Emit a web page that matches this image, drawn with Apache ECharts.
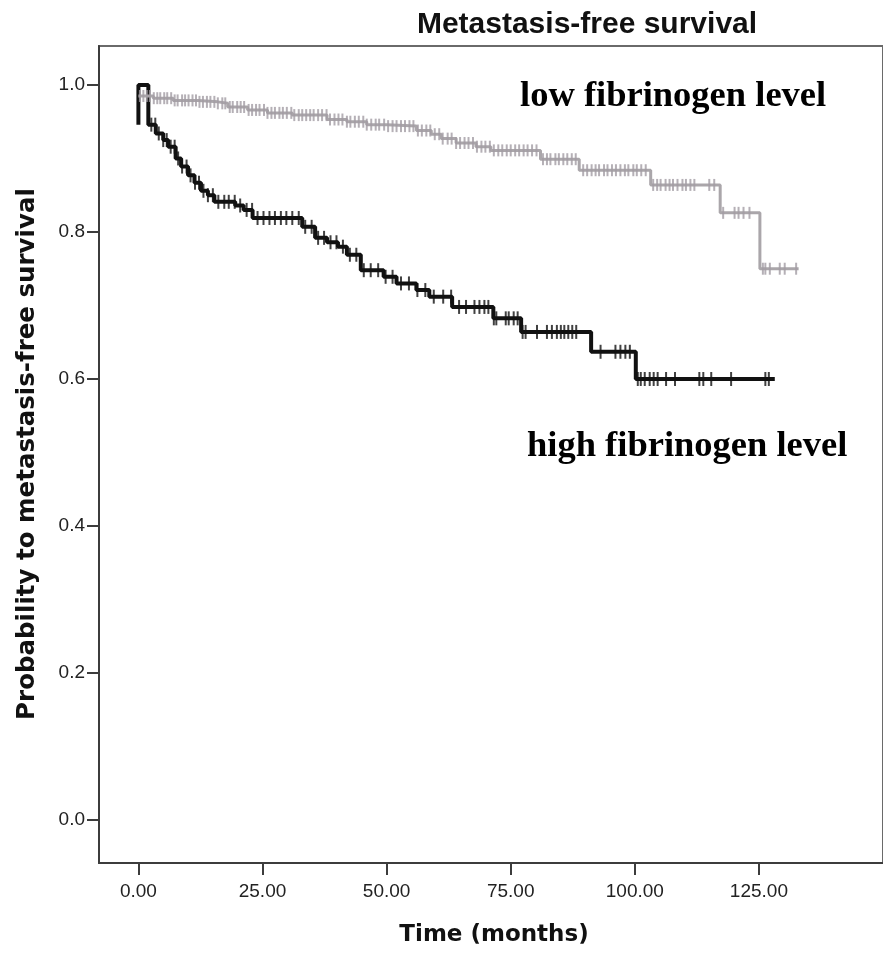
<!DOCTYPE html>
<html>
<head>
<meta charset="utf-8">
<title>Metastasis-free survival</title>
<script src="https://cdn.jsdelivr.net/npm/echarts@6/dist/echarts.min.js"></script>
<style>
  html, body {margin:0;padding:0;background:#fff;}
  #chart {width:883px;height:958px;}
</style>
</head>
<body>
<div id="chart"></div>
<script>
// tick labels
var xTicks = [0, 25, 50, 75, 100, 125];
var yTicks = [0, 0.2, 0.4, 0.6, 0.8, 1.0];

// low fibrinogen level - step times / survival
var lowTimes = [0, 3, 7, 12, 16, 18, 22, 26, 31, 38, 42, 46, 50, 56, 59, 61, 64, 68, 71, 81, 88.8, 103.2, 117.2, 125.2, 133];
var lowSurv  = [0.985, 0.982, 0.979, 0.977, 0.975, 0.970, 0.966, 0.962, 0.959, 0.953, 0.950, 0.946, 0.944, 0.938, 0.933, 0.927, 0.921, 0.916, 0.911, 0.899, 0.884, 0.864, 0.826, 0.750, 0.750];
var lowCensor = [0.3, 1.0, 1.7, 2.3, 3.1, 3.8, 4.4, 5.2, 5.8, 6.6, 7.3, 7.9, 8.8, 9.4, 10.1, 10.9, 11.6, 12.3, 13.0, 13.8, 14.5, 15.3, 16.0, 16.9, 17.5, 18.4, 19.0, 19.9, 20.6, 21.3, 22.2, 22.9, 23.7, 24.4, 25.3, 26.0, 26.8, 27.5, 28.4, 29.1, 29.9, 30.8, 31.4, 32.3, 33.0, 33.8, 34.6, 35.3, 36.2, 37.0, 37.9, 38.6, 39.5, 40.3, 41.1, 42.0, 42.7, 43.6, 44.4, 45.3, 46.0, 46.9, 47.8, 48.5, 49.5, 50.3, 51.2, 52.0, 52.9, 53.7, 54.6, 55.4, 56.3, 57.1, 58.0, 58.8, 59.7, 60.6, 61.3, 62.3, 63.1, 64.0, 64.8, 65.7, 66.5, 67.4, 68.2, 69.1, 69.9, 70.8, 71.6, 72.5, 73.3, 74.2, 75.0, 75.9, 76.7, 77.6, 78.4, 79.3, 80.2, 81.5, 82.3, 83.0, 84.0, 84.7, 85.6, 86.4, 87.3, 88.1, 89.6, 90.4, 91.3, 92.1, 92.8, 93.8, 94.5, 95.4, 96.2, 97.1, 98.0, 98.7, 99.7, 100.4, 101.3, 102.2, 103.7, 104.5, 105.2, 106.2, 107.0, 107.7, 108.6, 109.6, 110.3, 111.2, 112.0, 115.0, 116.0, 117.8, 120.1, 120.9, 121.9, 123.1, 125.8, 126.3, 127.2, 129.2, 130.2, 132.5];

// high fibrinogen level
var highTimes = [0, 0, 2, 3.5, 5, 6, 7.5, 8.6, 10, 11.3, 12.6, 14, 15.3, 19.5, 21.2, 23, 33, 35.6, 38, 40.2, 42, 44.8, 49.4, 52, 56, 58.6, 63.2, 71.5, 77.1, 91.2, 100.2, 128.2];
var highSurv  = [0.946, 1.0, 0.946, 0.934, 0.925, 0.916, 0.900, 0.889, 0.877, 0.867, 0.856, 0.850, 0.841, 0.836, 0.830, 0.819, 0.807, 0.792, 0.786, 0.780, 0.769, 0.748, 0.739, 0.730, 0.721, 0.712, 0.698, 0.6825, 0.664, 0.637, 0.600, 0.600];
var highCensor = [2.6, 3.4, 4.1, 5.0, 5.7, 6.5, 7.3, 8.0, 8.8, 9.7, 10.5, 11.4, 12.2, 13.1, 14.0, 15.0, 16.1, 17.3, 18.2, 19.4, 20.5, 21.8, 22.9, 24.0, 25.2, 26.4, 27.5, 28.7, 29.8, 31.0, 32.3, 33.6, 34.9, 36.2, 37.4, 38.7, 39.9, 41.2, 42.6, 43.9, 45.4, 46.8, 48.3, 49.8, 51.2, 52.9, 54.5, 56.2, 57.8, 59.5, 61.4, 63.0, 64.6, 66.0, 67.7, 68.7, 69.7, 70.5, 71.6, 72.1, 74.0, 74.6, 75.6, 76.4, 77.4, 78.0, 80.3, 82.3, 83.3, 84.3, 85.1, 85.8, 86.6, 87.4, 88.2, 93.1, 96.1, 97.1, 98.1, 99.0, 100.6, 101.2, 102.0, 103.0, 103.8, 104.6, 106.3, 108.1, 113.0, 113.8, 115.4, 119.4, 126.3, 127.0];

function stepData(times, surv) {
  var d = [];
  for (var i = 0; i < times.length; i++) d.push([times[i], surv[i]]);
  return d;
}
// survival value in effect at time t (last step at or before t)
function survAt(times, surv, t) {
  var v = surv[0];
  for (var i = 0; i < times.length; i++) {
    if (times[i] <= t) v = surv[i];
  }
  return v;
}
function censorData(times, surv, cens) {
  return cens.map(function (t) { return [t, survAt(times, surv, t)]; });
}

var chart = echarts.init(document.getElementById('chart'));
var axisColor = '#3c3c3c';
var option = {
  animation: false,
  backgroundColor: '#fff',
  grid: {
    left: 99, top: 46, right: -18, bottom: 95,
    show: true, borderColor: '#6a6a6a', borderWidth: 2, backgroundColor: 'transparent'
  },
  xAxis: {
    type: 'value', min: -7.94, max: 150,
    axisLine: {show: true, onZero: false, lineStyle: {color: axisColor, width: 2}},
    axisTick: {show: true, length: 12, lineStyle: {color: axisColor, width: 2}, customValues: xTicks},
    axisLabel: {
      customValues: xTicks, margin: 19, color: '#222',
      fontFamily: 'Liberation Sans', fontSize: 19,
      formatter: function (v) { return v.toFixed(2); }
    },
    splitLine: {show: false}
  },
  yAxis: {
    type: 'value', min: -0.0585, max: 1.053,
    axisLine: {show: true, onZero: false, lineStyle: {color: axisColor, width: 2}},
    axisTick: {show: true, length: 12, lineStyle: {color: axisColor, width: 2}, customValues: yTicks},
    axisLabel: {
      customValues: yTicks, margin: 14, color: '#222',
      fontFamily: 'Liberation Sans', fontSize: 19,
      formatter: function (v) { return v.toFixed(1); }
    },
    splitLine: {show: false}
  },
  graphic: [
    {type: 'text', x: 587, y: 25, style: {text: 'Metastasis-free survival', align: 'center', verticalAlign: 'middle',
      font: 'bold 30px "Liberation Sans"', fill: '#111'}},
    {type: 'text', x: 494, y: 935, style: {text: 'Time (months)', align: 'center', verticalAlign: 'middle',
      font: 'bold 23px "DejaVu Sans"', fill: '#111'}},
    {type: 'text', x: 28, y: 454, rotation: Math.PI / 2, style: {text: 'Probability to metastasis-free survival', align: 'center', verticalAlign: 'middle',
      font: 'bold 24.5px "DejaVu Sans"', fill: '#111'}},
    {type: 'text', x: 520, y: 97, style: {text: 'low fibrinogen level', align: 'left', verticalAlign: 'middle',
      font: 'bold 36.5px "Liberation Serif"', fill: '#000'}},
    {type: 'text', x: 527, y: 447, style: {text: 'high fibrinogen level', align: 'left', verticalAlign: 'middle',
      font: 'bold 36.5px "Liberation Serif"', fill: '#000'}}
  ],
  series: [
    {
      name: 'high fibrinogen level', type: 'line', step: 'end', showSymbol: false,
      data: stepData(highTimes, highSurv),
      lineStyle: {color: '#111', width: 4}, z: 2
    },
    {
      name: 'high censored', type: 'scatter', symbol: 'rect', symbolSize: [2, 14],
      data: censorData(highTimes, highSurv, highCensor),
      itemStyle: {color: '#111'}, z: 3
    },
    {
      name: 'low fibrinogen level', type: 'line', step: 'end', showSymbol: false,
      data: stepData(lowTimes, lowSurv),
      lineStyle: {color: '#aaa6aa', width: 3}, z: 4
    },
    {
      name: 'low censored', type: 'scatter', symbol: 'rect', symbolSize: [2, 12],
      data: censorData(lowTimes, lowSurv, lowCensor),
      itemStyle: {color: '#a29ca4'}, z: 5
    }
  ]
};
chart.setOption(option);
</script>
</body>
</html>
